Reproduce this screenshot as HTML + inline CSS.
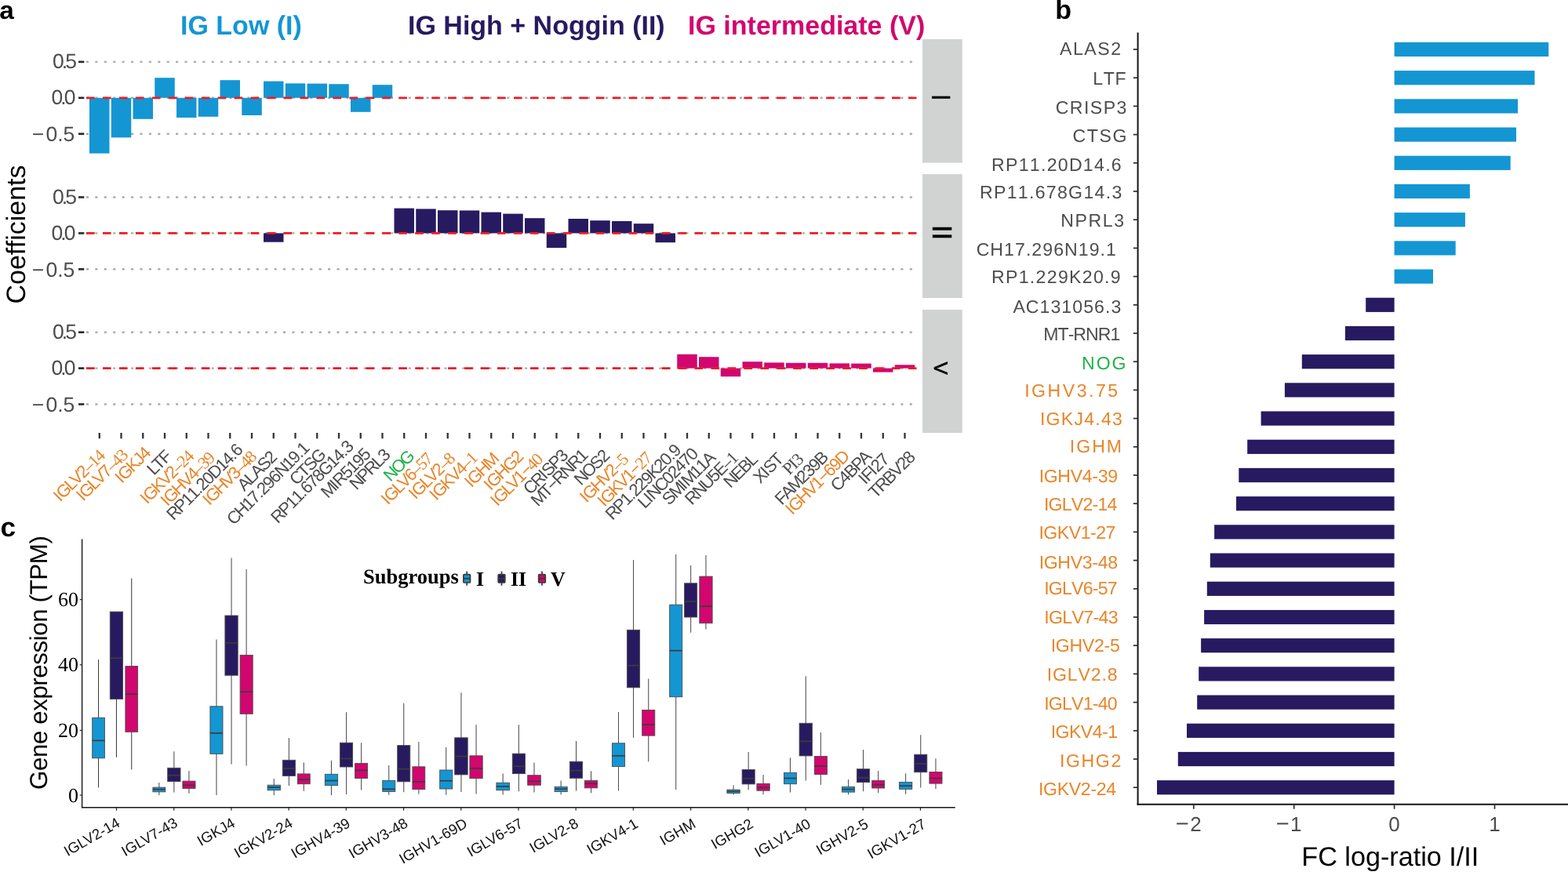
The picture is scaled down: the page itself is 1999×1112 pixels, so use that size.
<!DOCTYPE html>
<html lang="en">
<head>
<meta charset="utf-8">
<title>IG subgroup coefficients, fold-change and gene expression</title>
<style>
html,body{margin:0;padding:0;background:#fff;}
body{width:1999px;height:1112px;overflow:hidden;}
svg{display:block;}
text{white-space:pre;text-rendering:geometricPrecision;}
.nk{font-kerning:none;}
</style>
</head>
<body>
<svg width="1999" height="1112" viewBox="0 0 1999 1112">
<rect x="0" y="0" width="1999" height="1112" fill="#ffffff"/>
<g id="panel-a">
<text x="-0.8" y="23.6" textLength="18.6" lengthAdjust="spacingAndGlyphs" font-family='"Liberation Sans", Arial, Helvetica, sans-serif' font-weight="700" font-size="32" fill="#000">a</text>
<text x="230" y="44.2" font-family='"Liberation Sans", Arial, Helvetica, sans-serif' font-weight="700" font-size="34" fill="#1496D3">IG Low (I)</text>
<text x="520" y="44.2" font-family='"Liberation Sans", Arial, Helvetica, sans-serif' font-weight="700" font-size="34" fill="#281A60">IG High + Noggin (II)</text>
<text x="877" y="44.2" font-family='"Liberation Sans", Arial, Helvetica, sans-serif' font-weight="700" font-size="34" fill="#D2066F">IG intermediate (V)</text>
<text transform="translate(31.6,299) rotate(-90)" text-anchor="middle" font-family='"Liberation Sans", Arial, Helvetica, sans-serif' font-size="34" fill="#000">Coefficients</text>
<line x1="109.95" x2="1163.2" y1="78.9" y2="78.9" stroke="#ABADAD" stroke-width="2.4" stroke-dasharray="3.1 8.311"/>
<line x1="100" x2="107.3" y1="78.9" y2="78.9" stroke="#262626" stroke-width="2.6"/>
<text class="nk" x="95.1" y="87" text-anchor="end" font-family='"Liberation Sans", Arial, Helvetica, sans-serif' font-size="26.5" letter-spacing="-2.9" fill="#4D4D4D">0.5</text>
<line x1="109.95" x2="1163.2" y1="124.8" y2="124.8" stroke="#ABADAD" stroke-width="2.4" stroke-dasharray="3.1 8.311"/>
<line x1="100" x2="107.3" y1="124.8" y2="124.8" stroke="#262626" stroke-width="2.6"/>
<text class="nk" x="93.6" y="132.9" text-anchor="end" font-family='"Liberation Sans", Arial, Helvetica, sans-serif' font-size="26.5" letter-spacing="-2.9" fill="#4D4D4D">0.0</text>
<line x1="109.95" x2="1163.2" y1="170.7" y2="170.7" stroke="#ABADAD" stroke-width="2.4" stroke-dasharray="3.1 8.311"/>
<line x1="100" x2="107.3" y1="170.7" y2="170.7" stroke="#262626" stroke-width="2.6"/>
<text class="nk" x="97.6" y="179.9" text-anchor="end" font-family='"Liberation Sans", Arial, Helvetica, sans-serif' font-size="26.5" fill="#4D4D4D"><tspan dx="-2.3">−</tspan><tspan dx="2.3">0.5</tspan></text>
<rect x="1176" y="50" width="50.8" height="157.6" fill="#D1D3D3"/>
<text transform="translate(1200.4,124.3) rotate(90)" text-anchor="middle" dy="12.17" font-family='"Liberation Sans", Arial, Helvetica, sans-serif' font-size="34" fill="#000" stroke="#000" stroke-width="0">I</text>
<line x1="109.95" x2="1163.2" y1="251.5" y2="251.5" stroke="#ABADAD" stroke-width="2.4" stroke-dasharray="3.1 8.311"/>
<line x1="100" x2="107.3" y1="251.5" y2="251.5" stroke="#262626" stroke-width="2.6"/>
<text class="nk" x="95.1" y="259.6" text-anchor="end" font-family='"Liberation Sans", Arial, Helvetica, sans-serif' font-size="26.5" letter-spacing="-2.9" fill="#4D4D4D">0.5</text>
<line x1="109.95" x2="1163.2" y1="297.4" y2="297.4" stroke="#ABADAD" stroke-width="2.4" stroke-dasharray="3.1 8.311"/>
<line x1="100" x2="107.3" y1="297.4" y2="297.4" stroke="#262626" stroke-width="2.6"/>
<text class="nk" x="93.6" y="305.5" text-anchor="end" font-family='"Liberation Sans", Arial, Helvetica, sans-serif' font-size="26.5" letter-spacing="-2.9" fill="#4D4D4D">0.0</text>
<line x1="109.95" x2="1163.2" y1="343.3" y2="343.3" stroke="#ABADAD" stroke-width="2.4" stroke-dasharray="3.1 8.311"/>
<line x1="100" x2="107.3" y1="343.3" y2="343.3" stroke="#262626" stroke-width="2.6"/>
<text class="nk" x="97.6" y="352.5" text-anchor="end" font-family='"Liberation Sans", Arial, Helvetica, sans-serif' font-size="26.5" fill="#4D4D4D"><tspan dx="-2.3">−</tspan><tspan dx="2.3">0.5</tspan></text>
<rect x="1176" y="222.1" width="50.8" height="157.9" fill="#D1D3D3"/>
<text transform="translate(1201.5,296.4) rotate(90)" text-anchor="middle" dy="12.53" font-family='"Liberation Sans", Arial, Helvetica, sans-serif' font-size="35" fill="#000" stroke="#000" stroke-width="0.3">II</text>
<line x1="109.95" x2="1163.2" y1="423.7" y2="423.7" stroke="#ABADAD" stroke-width="2.4" stroke-dasharray="3.1 8.311"/>
<line x1="100" x2="107.3" y1="423.7" y2="423.7" stroke="#262626" stroke-width="2.6"/>
<text class="nk" x="95.1" y="431.8" text-anchor="end" font-family='"Liberation Sans", Arial, Helvetica, sans-serif' font-size="26.5" letter-spacing="-2.9" fill="#4D4D4D">0.5</text>
<line x1="109.95" x2="1163.2" y1="469.6" y2="469.6" stroke="#ABADAD" stroke-width="2.4" stroke-dasharray="3.1 8.311"/>
<line x1="100" x2="107.3" y1="469.6" y2="469.6" stroke="#262626" stroke-width="2.6"/>
<text class="nk" x="93.6" y="477.7" text-anchor="end" font-family='"Liberation Sans", Arial, Helvetica, sans-serif' font-size="26.5" letter-spacing="-2.9" fill="#4D4D4D">0.0</text>
<line x1="109.95" x2="1163.2" y1="515.5" y2="515.5" stroke="#ABADAD" stroke-width="2.4" stroke-dasharray="3.1 8.311"/>
<line x1="100" x2="107.3" y1="515.5" y2="515.5" stroke="#262626" stroke-width="2.6"/>
<text class="nk" x="97.6" y="524.7" text-anchor="end" font-family='"Liberation Sans", Arial, Helvetica, sans-serif' font-size="26.5" fill="#4D4D4D"><tspan dx="-2.3">−</tspan><tspan dx="2.3">0.5</tspan></text>
<rect x="1176" y="394.9" width="50.8" height="157.1" fill="#D1D3D3"/>
<text transform="translate(1201.5,469.6) rotate(90)" text-anchor="middle" dy="10.4" font-family='"Liberation Sans", Arial, Helvetica, sans-serif' font-size="24.3" fill="#000" stroke="#000" stroke-width="0.7">V</text>
<rect x="114" y="124.8" width="25.5" height="70.8" fill="#1496D3"/>
<rect x="141.75" y="124.8" width="25.5" height="50.6" fill="#1496D3"/>
<rect x="169.5" y="124.8" width="25.5" height="27" fill="#1496D3"/>
<rect x="197.25" y="99.2" width="25.5" height="25.6" fill="#1496D3"/>
<rect x="225" y="124.8" width="25.5" height="25.2" fill="#1496D3"/>
<rect x="252.75" y="124.8" width="25.5" height="24" fill="#1496D3"/>
<rect x="280.5" y="102.2" width="25.5" height="22.6" fill="#1496D3"/>
<rect x="308.25" y="124.8" width="25.5" height="22.2" fill="#1496D3"/>
<rect x="336" y="103.6" width="25.5" height="21.2" fill="#1496D3"/>
<rect x="363.75" y="106.4" width="25.5" height="18.4" fill="#1496D3"/>
<rect x="391.5" y="106.6" width="25.5" height="18.2" fill="#1496D3"/>
<rect x="419.25" y="107.2" width="25.5" height="17.6" fill="#1496D3"/>
<rect x="447" y="124.8" width="25.5" height="18" fill="#1496D3"/>
<rect x="474.75" y="108.2" width="25.5" height="16.6" fill="#1496D3"/>
<rect x="336" y="297.4" width="25.5" height="11.3" fill="#281A60"/>
<rect x="502.5" y="265.6" width="25.5" height="31.8" fill="#281A60"/>
<rect x="530.25" y="266.4" width="25.5" height="31" fill="#281A60"/>
<rect x="558" y="268.2" width="25.5" height="29.2" fill="#281A60"/>
<rect x="585.75" y="268.4" width="25.5" height="29" fill="#281A60"/>
<rect x="613.5" y="270.6" width="25.5" height="26.8" fill="#281A60"/>
<rect x="641.25" y="272.6" width="25.5" height="24.8" fill="#281A60"/>
<rect x="669" y="278.2" width="25.5" height="19.2" fill="#281A60"/>
<rect x="696.75" y="297.4" width="25.5" height="18.6" fill="#281A60"/>
<rect x="724.5" y="279" width="25.5" height="18.4" fill="#281A60"/>
<rect x="752.25" y="281.2" width="25.5" height="16.2" fill="#281A60"/>
<rect x="780" y="282" width="25.5" height="15.4" fill="#281A60"/>
<rect x="807.75" y="285.2" width="25.5" height="12.2" fill="#281A60"/>
<rect x="835.5" y="297.4" width="25.5" height="11.8" fill="#281A60"/>
<rect x="863.25" y="451.8" width="25.5" height="17.8" fill="#D2066F"/>
<rect x="891" y="455.2" width="25.5" height="14.4" fill="#D2066F"/>
<rect x="918.75" y="469.6" width="25.5" height="10.6" fill="#D2066F"/>
<rect x="946.5" y="461.2" width="25.5" height="8.4" fill="#D2066F"/>
<rect x="974.25" y="462.4" width="25.5" height="7.2" fill="#D2066F"/>
<rect x="1002" y="462.8" width="25.5" height="6.8" fill="#D2066F"/>
<rect x="1029.75" y="462.8" width="25.5" height="6.8" fill="#D2066F"/>
<rect x="1057.5" y="463.4" width="25.5" height="6.2" fill="#D2066F"/>
<rect x="1085.25" y="463.6" width="25.5" height="6" fill="#D2066F"/>
<rect x="1113" y="469.6" width="25.5" height="5" fill="#D2066F"/>
<rect x="1140.75" y="465.3" width="25.5" height="4.3" fill="#D2066F"/>
<line x1="110" x2="1168.5" y1="124.8" y2="124.8" stroke="#EC1C24" stroke-width="2.7" stroke-dasharray="10.7 10.26"/>
<line x1="110" x2="1168.5" y1="297.4" y2="297.4" stroke="#EC1C24" stroke-width="2.7" stroke-dasharray="10.7 10.26"/>
<line x1="110" x2="1168.5" y1="469.6" y2="469.6" stroke="#EC1C24" stroke-width="2.7" stroke-dasharray="10.7 10.26"/>
<line x1="126.75" x2="126.75" y1="552" y2="559.3" stroke="#333" stroke-width="2.3"/>
<text class="nk" transform="translate(76.75,640.65) rotate(-45)" font-family='"Liberation Sans", Arial, Helvetica, sans-serif' font-size="22" fill="#E8862B"><tspan x="0 5.31 20.18 29.48 42.23">IGLV2</tspan><tspan font-family='"Liberation Serif", serif' x="52.87 62.43 71.99">–14</tspan></text>
<line x1="154.5" x2="154.5" y1="552" y2="559.3" stroke="#333" stroke-width="2.3"/>
<text class="nk" transform="translate(106,640) rotate(-45)" font-family='"Liberation Sans", Arial, Helvetica, sans-serif' font-size="22" fill="#E8862B"><tspan x="0 5.31 20.18 29.48 42.23">IGLV7</tspan><tspan font-family='"Liberation Serif", serif' x="52.87 62.43 71.99">–43</tspan></text>
<line x1="182.25" x2="182.25" y1="552" y2="559.3" stroke="#333" stroke-width="2.3"/>
<text class="nk" transform="translate(155.15,617.35) rotate(-45)" font-family='"Liberation Sans", Arial, Helvetica, sans-serif' font-size="22" fill="#E8862B"><tspan x="0 5.31 20.18 32.94 42.5">IGKJ4</tspan></text>
<line x1="210" x2="210" y1="552" y2="559.3" stroke="#333" stroke-width="2.3"/>
<text class="nk" transform="translate(196.25,607.1) rotate(-45)" font-family='"Liberation Sans", Arial, Helvetica, sans-serif' font-size="22" fill="#4D4D4D"><tspan x="0 9.3 20.97">LTF</tspan></text>
<line x1="237.75" x2="237.75" y1="552" y2="559.3" stroke="#333" stroke-width="2.3"/>
<text class="nk" transform="translate(187.6,643.85) rotate(-45)" font-family='"Liberation Sans", Arial, Helvetica, sans-serif' font-size="22" fill="#E8862B"><tspan x="0 5.31 20.18 32.94 45.69">IGKV2</tspan><tspan font-family='"Liberation Serif", serif' x="56.32 65.88 75.44">–24</tspan></text>
<line x1="265.5" x2="265.5" y1="552" y2="559.3" stroke="#333" stroke-width="2.3"/>
<text class="nk" transform="translate(213.6,646.6) rotate(-45)" font-family='"Liberation Sans", Arial, Helvetica, sans-serif' font-size="22" fill="#E8862B"><tspan x="0 5.31 20.18 33.99 46.75">IGHV4</tspan><tspan font-family='"Liberation Serif", serif' x="57.38 66.94 76.5">–39</tspan></text>
<line x1="293.25" x2="293.25" y1="552" y2="559.3" stroke="#333" stroke-width="2.3"/>
<text class="nk" transform="translate(221.3,664.4) rotate(-45)" font-family='"Liberation Sans", Arial, Helvetica, sans-serif' font-size="22" fill="#4D4D4D"><tspan x="0 13.81 26.56 37.19 47.83 53.14 63.77 74.41 88.22 98.85 109.48 114.79">RP11.20D14.6</tspan></text>
<line x1="321" x2="321" y1="552" y2="559.3" stroke="#333" stroke-width="2.3"/>
<text class="nk" transform="translate(267,645.45) rotate(-45)" font-family='"Liberation Sans", Arial, Helvetica, sans-serif' font-size="22" fill="#E8862B"><tspan x="0 5.31 20.18 33.99 46.75">IGHV3</tspan><tspan font-family='"Liberation Serif", serif' x="57.38 66.94 76.5">–48</tspan></text>
<line x1="348.75" x2="348.75" y1="552" y2="559.3" stroke="#333" stroke-width="2.3"/>
<text class="nk" transform="translate(311.55,627.15) rotate(-45)" font-family='"Liberation Sans", Arial, Helvetica, sans-serif' font-size="22" fill="#4D4D4D"><tspan x="0 12.75 23.39 36.14 48.89">ALAS2</tspan></text>
<line x1="376.5" x2="376.5" y1="552" y2="559.3" stroke="#333" stroke-width="2.3"/>
<text class="nk" transform="translate(298,670.5) rotate(-45)" font-family='"Liberation Sans", Arial, Helvetica, sans-serif' font-size="22" fill="#4D4D4D"><tspan x="0 13.81 27.62 38.25 48.88 54.2 64.83 75.46 86.1 99.9 110.54 121.17 126.48">CH17.296N19.1</tspan></text>
<line x1="404.25" x2="404.25" y1="552" y2="559.3" stroke="#333" stroke-width="2.3"/>
<text class="nk" transform="translate(378.05,619.75) rotate(-45)" font-family='"Liberation Sans", Arial, Helvetica, sans-serif' font-size="22" fill="#4D4D4D"><tspan x="0 13.81 25.49 38.24">CTSG</tspan></text>
<line x1="432" x2="432" y1="552" y2="559.3" stroke="#333" stroke-width="2.3"/>
<text class="nk" transform="translate(354.3,668.4) rotate(-45)" font-family='"Liberation Sans", Arial, Helvetica, sans-serif' font-size="22" fill="#4D4D4D"><tspan x="0 13.81 26.56 37.19 47.83 53.14 63.77 74.41 85.04 99.91 110.55 121.18 126.49">RP11.678G14.3</tspan></text>
<line x1="459.75" x2="459.75" y1="552" y2="559.3" stroke="#333" stroke-width="2.3"/>
<text class="nk" transform="translate(418.1,636.2) rotate(-45)" font-family='"Liberation Sans", Arial, Helvetica, sans-serif' font-size="22" fill="#4D4D4D"><tspan x="0 15.93 21.24 35.05 45.68 56.31 66.95">MIR5195</tspan></text>
<line x1="487.5" x2="487.5" y1="552" y2="559.3" stroke="#333" stroke-width="2.3"/>
<text class="nk" transform="translate(454.5,625.7) rotate(-45)" font-family='"Liberation Sans", Arial, Helvetica, sans-serif' font-size="22" fill="#4D4D4D"><tspan x="0 13.81 26.56 40.37 51">NPRL3</tspan></text>
<line x1="515.25" x2="515.25" y1="552" y2="559.3" stroke="#333" stroke-width="2.3"/>
<text class="nk" transform="translate(497.7,614.9) rotate(-45)" font-family='"Liberation Sans", Arial, Helvetica, sans-serif' font-size="22" fill="#21B24B"><tspan x="0 13.81 28.68">NOG</tspan></text>
<line x1="543" x2="543" y1="552" y2="559.3" stroke="#333" stroke-width="2.3"/>
<text class="nk" transform="translate(494.55,644.65) rotate(-45)" font-family='"Liberation Sans", Arial, Helvetica, sans-serif' font-size="22" fill="#E8862B"><tspan x="0 5.31 20.18 29.48 42.23">IGLV6</tspan><tspan font-family='"Liberation Serif", serif' x="52.87 62.43 71.99">–57</tspan></text>
<line x1="570.75" x2="570.75" y1="552" y2="559.3" stroke="#333" stroke-width="2.3"/>
<text class="nk" transform="translate(529.8,637.75) rotate(-45)" font-family='"Liberation Sans", Arial, Helvetica, sans-serif' font-size="22" fill="#E8862B"><tspan x="0 5.31 20.18 29.48 42.23">IGLV2</tspan><tspan font-family='"Liberation Serif", serif' x="52.87 62.43">–8</tspan></text>
<line x1="598.5" x2="598.5" y1="552" y2="559.3" stroke="#333" stroke-width="2.3"/>
<text class="nk" transform="translate(556.25,639.15) rotate(-45)" font-family='"Liberation Sans", Arial, Helvetica, sans-serif' font-size="22" fill="#E8862B"><tspan x="0 5.31 20.18 32.94 45.69">IGKV4</tspan><tspan font-family='"Liberation Serif", serif' x="56.32 65.88">–1</tspan></text>
<line x1="626.25" x2="626.25" y1="552" y2="559.3" stroke="#333" stroke-width="2.3"/>
<text class="nk" transform="translate(600.95,622.85) rotate(-45)" font-family='"Liberation Sans", Arial, Helvetica, sans-serif' font-size="22" fill="#E8862B"><tspan x="0 5.31 20.18 33.99">IGHM</tspan></text>
<line x1="654" x2="654" y1="552" y2="559.3" stroke="#333" stroke-width="2.3"/>
<text class="nk" transform="translate(625.6,626.55) rotate(-45)" font-family='"Liberation Sans", Arial, Helvetica, sans-serif' font-size="22" fill="#E8862B"><tspan x="0 5.31 20.18 33.99 48.86">IGHG2</tspan></text>
<line x1="681.75" x2="681.75" y1="552" y2="559.3" stroke="#333" stroke-width="2.3"/>
<text class="nk" transform="translate(634,646.5) rotate(-45)" font-family='"Liberation Sans", Arial, Helvetica, sans-serif' font-size="22" fill="#E8862B"><tspan x="0 5.31 20.18 29.48 42.23 52.87">IGLV1−</tspan><tspan font-family='"Liberation Serif", serif' x="64.03 73.59">40</tspan></text>
<line x1="709.5" x2="709.5" y1="552" y2="559.3" stroke="#333" stroke-width="2.3"/>
<text class="nk" transform="translate(675.95,631.8) rotate(-45)" font-family='"Liberation Sans", Arial, Helvetica, sans-serif' font-size="22" fill="#4D4D4D"><tspan x="0 13.81 27.62 32.93 45.68 58.43">CRISP3</tspan></text>
<line x1="737.25" x2="737.25" y1="552" y2="559.3" stroke="#333" stroke-width="2.3"/>
<text class="nk" transform="translate(685.7,646.75) rotate(-45)" font-family='"Liberation Sans", Arial, Helvetica, sans-serif' font-size="22" fill="#4D4D4D"><tspan x="0 15.93 27.61 38.77 52.58 66.39 80.2">MT−RNR1</tspan></text>
<line x1="765" x2="765" y1="552" y2="559.3" stroke="#333" stroke-width="2.3"/>
<text class="nk" transform="translate(740.85,619.95) rotate(-45)" font-family='"Liberation Sans", Arial, Helvetica, sans-serif' font-size="22" fill="#4D4D4D"><tspan x="0 13.81 28.68 41.43">NOS2</tspan></text>
<line x1="792.75" x2="792.75" y1="552" y2="559.3" stroke="#333" stroke-width="2.3"/>
<text class="nk" transform="translate(747.65,642) rotate(-45)" font-family='"Liberation Sans", Arial, Helvetica, sans-serif' font-size="22" fill="#E8862B"><tspan x="0 5.31 20.18 33.99 46.75">IGHV2</tspan><tspan font-family='"Liberation Serif", serif' x="57.38 66.94">–5</tspan></text>
<line x1="820.5" x2="820.5" y1="552" y2="559.3" stroke="#333" stroke-width="2.3"/>
<text class="nk" transform="translate(770.45,647.35) rotate(-45)" font-family='"Liberation Sans", Arial, Helvetica, sans-serif' font-size="22" fill="#E8862B"><tspan x="0 5.31 20.18 32.94 45.69 56.32">IGKV1−</tspan><tspan font-family='"Liberation Serif", serif' x="67.49 77.05">27</tspan></text>
<line x1="848.25" x2="848.25" y1="552" y2="559.3" stroke="#333" stroke-width="2.3"/>
<text class="nk" transform="translate(780.8,664.25) rotate(-45)" font-family='"Liberation Sans", Arial, Helvetica, sans-serif' font-size="22" fill="#4D4D4D"><tspan x="0 13.81 26.56 37.19 42.51 53.14 63.77 74.41 87.16 97.79 108.43 113.74">RP1.229K20.9</tspan></text>
<line x1="876" x2="876" y1="552" y2="559.3" stroke="#333" stroke-width="2.3"/>
<text class="nk" transform="translate(822,649.45) rotate(-45)" font-family='"Liberation Sans", Arial, Helvetica, sans-serif' font-size="22" fill="#4D4D4D"><tspan x="0 10.63 15.95 29.75 43.56 54.2 64.83 75.46 86.1">LINC02470</tspan></text>
<line x1="903.75" x2="903.75" y1="552" y2="559.3" stroke="#333" stroke-width="2.3"/>
<text class="nk" transform="translate(853.1,645.3) rotate(-45)" font-family='"Liberation Sans", Arial, Helvetica, sans-serif' font-size="22" fill="#4D4D4D"><tspan x="0 12.75 28.68 33.99 49.92 60.55 71.19">SMIM11A</tspan></text>
<line x1="931.5" x2="931.5" y1="552" y2="559.3" stroke="#333" stroke-width="2.3"/>
<text class="nk" transform="translate(882.05,645.05) rotate(-45)" font-family='"Liberation Sans", Arial, Helvetica, sans-serif' font-size="22" fill="#4D4D4D"><tspan x="0 13.81 27.62 41.42 52.06">RNU5E</tspan><tspan font-family='"Liberation Serif", serif' x="64.81 74.37">–1</tspan></text>
<line x1="959.25" x2="959.25" y1="552" y2="559.3" stroke="#333" stroke-width="2.3"/>
<text class="nk" transform="translate(931.3,623.3) rotate(-45)" font-family='"Liberation Sans", Arial, Helvetica, sans-serif' font-size="22" fill="#4D4D4D"><tspan x="0 13.81 26.56 39.31">NEBL</tspan></text>
<line x1="987" x2="987" y1="552" y2="559.3" stroke="#333" stroke-width="2.3"/>
<text class="nk" transform="translate(969.2,617.5) rotate(-45)" font-family='"Liberation Sans", Arial, Helvetica, sans-serif' font-size="22" fill="#4D4D4D"><tspan x="0 12.75 18.07 30.82">XIST</tspan></text>
<line x1="1014.75" x2="1014.75" y1="552" y2="559.3" stroke="#333" stroke-width="2.3"/>
<text class="nk" transform="translate(1006.25,606.4) rotate(-45)" font-family='"Liberation Sans", Arial, Helvetica, sans-serif' font-size="22" fill="#4D4D4D"><tspan font-family='"Liberation Serif", serif' x="0 10.63 17">PI3</tspan></text>
<line x1="1042.5" x2="1042.5" y1="552" y2="559.3" stroke="#333" stroke-width="2.3"/>
<text class="nk" transform="translate(996.75,644.9) rotate(-45)" font-family='"Liberation Sans", Arial, Helvetica, sans-serif' font-size="22" fill="#4D4D4D"><tspan x="0 10.72 23.48 39.4 50.04 60.67 71.3">FAM239B</tspan></text>
<line x1="1070.25" x2="1070.25" y1="552" y2="559.3" stroke="#333" stroke-width="2.3"/>
<text class="nk" transform="translate(1010,657.5) rotate(-45)" font-family='"Liberation Sans", Arial, Helvetica, sans-serif' font-size="22" fill="#E8862B"><tspan x="0 5.31 20.18 33.99 46.75 57.38 68.54 79.18 89.81">IGHV1−69D</tspan></text>
<line x1="1098" x2="1098" y1="552" y2="559.3" stroke="#333" stroke-width="2.3"/>
<text class="nk" transform="translate(1067.85,627.75) rotate(-45)" font-family='"Liberation Sans", Arial, Helvetica, sans-serif' font-size="22" fill="#4D4D4D"><tspan x="0 13.81 24.44 37.19 48.51">C4BPA</tspan></text>
<line x1="1125.75" x2="1125.75" y1="552" y2="559.3" stroke="#333" stroke-width="2.3"/>
<text class="nk" transform="translate(1103.35,618.7) rotate(-45)" font-family='"Liberation Sans", Arial, Helvetica, sans-serif' font-size="22" fill="#4D4D4D"><tspan x="0 5.31 16.99 22.3 32.94">IFI27</tspan></text>
<line x1="1153.5" x2="1153.5" y1="552" y2="559.3" stroke="#333" stroke-width="2.3"/>
<text class="nk" transform="translate(1116.15,636.4) rotate(-45)" font-family='"Liberation Sans", Arial, Helvetica, sans-serif' font-size="22" fill="#4D4D4D"><tspan x="0 11.68 25.49 38.24 50.99 61.63">TRBV28</tspan></text>
</g>
<g id="panel-b">
<text x="1345.3" y="23.7" font-family='"Liberation Sans", Arial, Helvetica, sans-serif' font-weight="700" font-size="34" fill="#000">b</text>
<line x1="1450.6" x2="1450.6" y1="41.4" y2="1026.6" stroke="#141414" stroke-width="2"/>
<line x1="1449.6" x2="1999" y1="1025.7" y2="1025.7" stroke="#141414" stroke-width="1.9"/>
<line x1="1444.8" x2="1450.6" y1="63" y2="63" stroke="#2e2e2e" stroke-width="1.7"/>
<rect x="1777.6" y="53.9" width="196.7" height="18.2" fill="#1496D3"/>
<text class="nk" x="1351" y="70.4" font-family='"Liberation Sans", Arial, Helvetica, sans-serif' font-size="23.1" letter-spacing="1.53" fill="#4D4D4D">ALAS2</text>
<line x1="1444.8" x2="1450.6" y1="99.2" y2="99.2" stroke="#2e2e2e" stroke-width="1.7"/>
<rect x="1777.6" y="90.1" width="178.9" height="18.2" fill="#1496D3"/>
<text class="nk" x="1393.15" y="108.2" font-family='"Liberation Sans", Arial, Helvetica, sans-serif' font-size="23.1" letter-spacing="0.68" fill="#4D4D4D">LTF</text>
<line x1="1444.8" x2="1450.6" y1="135.4" y2="135.4" stroke="#2e2e2e" stroke-width="1.7"/>
<rect x="1777.6" y="126.3" width="157.4" height="18.2" fill="#1496D3"/>
<text class="nk" x="1345.65" y="145.15" font-family='"Liberation Sans", Arial, Helvetica, sans-serif' font-size="23.1" letter-spacing="1.46" fill="#4D4D4D">CRISP3</text>
<line x1="1444.8" x2="1450.6" y1="171.6" y2="171.6" stroke="#2e2e2e" stroke-width="1.7"/>
<rect x="1777.6" y="162.5" width="155.4" height="18.2" fill="#1496D3"/>
<text class="nk" x="1367.5" y="180.5" font-family='"Liberation Sans", Arial, Helvetica, sans-serif' font-size="23.1" letter-spacing="1.58" fill="#4D4D4D">CTSG</text>
<line x1="1444.8" x2="1450.6" y1="207.8" y2="207.8" stroke="#2e2e2e" stroke-width="1.7"/>
<rect x="1777.6" y="198.7" width="148.1" height="18.2" fill="#1496D3"/>
<text class="nk" x="1264" y="217.55" font-family='"Liberation Sans", Arial, Helvetica, sans-serif' font-size="23.1" letter-spacing="1.29" fill="#4D4D4D">RP11.20D14.6</text>
<line x1="1444.8" x2="1450.6" y1="244" y2="244" stroke="#2e2e2e" stroke-width="1.7"/>
<rect x="1777.6" y="234.9" width="96.3" height="18.2" fill="#1496D3"/>
<text class="nk" x="1249" y="253.4" font-family='"Liberation Sans", Arial, Helvetica, sans-serif' font-size="23.1" letter-spacing="1.3" fill="#4D4D4D">RP11.678G14.3</text>
<line x1="1444.8" x2="1450.6" y1="280.2" y2="280.2" stroke="#2e2e2e" stroke-width="1.7"/>
<rect x="1777.6" y="271.1" width="90.3" height="18.2" fill="#1496D3"/>
<text class="nk" x="1352.15" y="288.7" font-family='"Liberation Sans", Arial, Helvetica, sans-serif' font-size="23.1" letter-spacing="1.63" fill="#4D4D4D">NPRL3</text>
<line x1="1444.8" x2="1450.6" y1="316.4" y2="316.4" stroke="#2e2e2e" stroke-width="1.7"/>
<rect x="1777.6" y="307.3" width="78.1" height="18.2" fill="#1496D3"/>
<text class="nk" x="1244.65" y="325.8" font-family='"Liberation Sans", Arial, Helvetica, sans-serif' font-size="23.1" letter-spacing="1.05" fill="#4D4D4D">CH17.296N19.1</text>
<line x1="1444.8" x2="1450.6" y1="352.6" y2="352.6" stroke="#2e2e2e" stroke-width="1.7"/>
<rect x="1777.6" y="343.5" width="49.4" height="18.2" fill="#1496D3"/>
<text class="nk" x="1264" y="360.7" font-family='"Liberation Sans", Arial, Helvetica, sans-serif' font-size="23.1" letter-spacing="1.31" fill="#4D4D4D">RP1.229K20.9</text>
<line x1="1444.8" x2="1450.6" y1="388.8" y2="388.8" stroke="#2e2e2e" stroke-width="1.7"/>
<rect x="1741.2" y="379.7" width="36.4" height="18.2" fill="#281A60"/>
<text class="nk" x="1291.4" y="398.8" font-family='"Liberation Sans", Arial, Helvetica, sans-serif' font-size="23.1" letter-spacing="1.05" fill="#4D4D4D">AC131056.3</text>
<line x1="1444.8" x2="1450.6" y1="425" y2="425" stroke="#2e2e2e" stroke-width="1.7"/>
<rect x="1714.9" y="415.9" width="62.7" height="18.2" fill="#281A60"/>
<text class="nk" x="1330.3" y="434" font-family='"Liberation Sans", Arial, Helvetica, sans-serif' font-size="23.1" letter-spacing="-0.99" fill="#4D4D4D">MT-RNR1</text>
<line x1="1444.8" x2="1450.6" y1="461.2" y2="461.2" stroke="#2e2e2e" stroke-width="1.7"/>
<rect x="1659.8" y="452.1" width="117.8" height="18.2" fill="#281A60"/>
<text class="nk" x="1379" y="470.6" font-family='"Liberation Sans", Arial, Helvetica, sans-serif' font-size="23.1" letter-spacing="1.98" fill="#21B24B">NOG</text>
<line x1="1444.8" x2="1450.6" y1="497.4" y2="497.4" stroke="#2e2e2e" stroke-width="1.7"/>
<rect x="1637.9" y="488.3" width="139.7" height="18.2" fill="#281A60"/>
<text class="nk" x="1306.15" y="505.9" font-family='"Liberation Sans", Arial, Helvetica, sans-serif' font-size="23.1" letter-spacing="2.52" fill="#E8862B">IGHV3.75</text>
<line x1="1444.8" x2="1450.6" y1="533.6" y2="533.6" stroke="#2e2e2e" stroke-width="1.7"/>
<rect x="1607.6" y="524.5" width="170" height="18.2" fill="#281A60"/>
<text class="nk" x="1325.9" y="541.8" font-family='"Liberation Sans", Arial, Helvetica, sans-serif' font-size="23.1" letter-spacing="1.24" fill="#E8862B">IGKJ4.43</text>
<line x1="1444.8" x2="1450.6" y1="569.8" y2="569.8" stroke="#2e2e2e" stroke-width="1.7"/>
<rect x="1590.2" y="560.7" width="187.4" height="18.2" fill="#281A60"/>
<text class="nk" x="1363.8" y="577.1" font-family='"Liberation Sans", Arial, Helvetica, sans-serif' font-size="23.1" letter-spacing="1.98" fill="#E8862B">IGHM</text>
<line x1="1444.8" x2="1450.6" y1="606" y2="606" stroke="#2e2e2e" stroke-width="1.7"/>
<rect x="1579.3" y="596.9" width="198.3" height="18.2" fill="#281A60"/>
<text class="nk" x="1324.65" y="614.9" font-family='"Liberation Sans", Arial, Helvetica, sans-serif' font-size="23.1" letter-spacing="-0.33" fill="#E8862B">IGHV4-39</text>
<line x1="1444.8" x2="1450.6" y1="642.2" y2="642.2" stroke="#2e2e2e" stroke-width="1.7"/>
<rect x="1576" y="633.1" width="201.6" height="18.2" fill="#281A60"/>
<text class="nk" x="1330.9" y="651.3" font-family='"Liberation Sans", Arial, Helvetica, sans-serif' font-size="23.1" letter-spacing="-0.76" fill="#E8862B">IGLV2-14</text>
<line x1="1444.8" x2="1450.6" y1="678.4" y2="678.4" stroke="#2e2e2e" stroke-width="1.7"/>
<rect x="1548.1" y="669.3" width="229.5" height="18.2" fill="#281A60"/>
<text class="nk" x="1324.4" y="687.2" font-family='"Liberation Sans", Arial, Helvetica, sans-serif' font-size="23.1" letter-spacing="-0.48" fill="#E8862B">IGKV1-27</text>
<line x1="1444.8" x2="1450.6" y1="714.6" y2="714.6" stroke="#2e2e2e" stroke-width="1.7"/>
<rect x="1542.8" y="705.5" width="234.8" height="18.2" fill="#281A60"/>
<text class="nk" x="1324.65" y="724.6" font-family='"Liberation Sans", Arial, Helvetica, sans-serif' font-size="23.1" letter-spacing="-0.33" fill="#E8862B">IGHV3-48</text>
<line x1="1444.8" x2="1450.6" y1="750.8" y2="750.8" stroke="#2e2e2e" stroke-width="1.7"/>
<rect x="1538.8" y="741.7" width="238.8" height="18.2" fill="#281A60"/>
<text class="nk" x="1331.15" y="758.2" font-family='"Liberation Sans", Arial, Helvetica, sans-serif' font-size="23.1" letter-spacing="-0.76" fill="#E8862B">IGLV6-57</text>
<line x1="1444.8" x2="1450.6" y1="787" y2="787" stroke="#2e2e2e" stroke-width="1.7"/>
<rect x="1535.1" y="777.9" width="242.5" height="18.2" fill="#281A60"/>
<text class="nk" x="1331.15" y="795.4" font-family='"Liberation Sans", Arial, Helvetica, sans-serif' font-size="23.1" letter-spacing="-0.62" fill="#E8862B">IGLV7-43</text>
<line x1="1444.8" x2="1450.6" y1="823.2" y2="823.2" stroke="#2e2e2e" stroke-width="1.7"/>
<rect x="1531.1" y="814.1" width="246.5" height="18.2" fill="#281A60"/>
<text class="nk" x="1339.65" y="830.8" font-family='"Liberation Sans", Arial, Helvetica, sans-serif' font-size="23.1" letter-spacing="-0.29" fill="#E8862B">IGHV2-5</text>
<line x1="1444.8" x2="1450.6" y1="859.4" y2="859.4" stroke="#2e2e2e" stroke-width="1.7"/>
<rect x="1528.2" y="850.3" width="249.4" height="18.2" fill="#281A60"/>
<text class="nk" x="1334.65" y="868.4" font-family='"Liberation Sans", Arial, Helvetica, sans-serif' font-size="23.1" letter-spacing="0.88" fill="#E8862B">IGLV2.8</text>
<line x1="1444.8" x2="1450.6" y1="895.6" y2="895.6" stroke="#2e2e2e" stroke-width="1.7"/>
<rect x="1526.2" y="886.5" width="251.4" height="18.2" fill="#281A60"/>
<text class="nk" x="1331.15" y="905.2" font-family='"Liberation Sans", Arial, Helvetica, sans-serif' font-size="23.1" letter-spacing="-0.76" fill="#E8862B">IGLV1-40</text>
<line x1="1444.8" x2="1450.6" y1="931.8" y2="931.8" stroke="#2e2e2e" stroke-width="1.7"/>
<rect x="1513" y="922.7" width="264.6" height="18.2" fill="#281A60"/>
<text class="nk" x="1339.65" y="941.1" font-family='"Liberation Sans", Arial, Helvetica, sans-serif' font-size="23.1" letter-spacing="-0.52" fill="#E8862B">IGKV4-1</text>
<line x1="1444.8" x2="1450.6" y1="968" y2="968" stroke="#2e2e2e" stroke-width="1.7"/>
<rect x="1501.8" y="958.9" width="275.8" height="18.2" fill="#281A60"/>
<text class="nk" x="1350.9" y="977.75" font-family='"Liberation Sans", Arial, Helvetica, sans-serif' font-size="23.1" letter-spacing="1.63" fill="#E8862B">IGHG2</text>
<line x1="1444.8" x2="1450.6" y1="1004.2" y2="1004.2" stroke="#2e2e2e" stroke-width="1.7"/>
<rect x="1475" y="995.1" width="302.6" height="18.2" fill="#281A60"/>
<text class="nk" x="1324" y="1013.6" font-family='"Liberation Sans", Arial, Helvetica, sans-serif' font-size="23.1" letter-spacing="-0.33" fill="#E8862B">IGKV2-24</text>
<line x1="1521.8" x2="1521.8" y1="1025.7" y2="1031.7" stroke="#2e2e2e" stroke-width="1.7"/>
<text class="nk" x="1533.4" y="1059.7" text-anchor="end" font-family='"Liberation Sans", Arial, Helvetica, sans-serif' font-size="26" fill="#4D4D4D"><tspan dx="-1.8" font-size="29">−</tspan><tspan dx="1.4">2</tspan></text>
<line x1="1649.7" x2="1649.7" y1="1025.7" y2="1031.7" stroke="#2e2e2e" stroke-width="1.7"/>
<text class="nk" x="1661.3" y="1059.7" text-anchor="end" font-family='"Liberation Sans", Arial, Helvetica, sans-serif' font-size="26" fill="#4D4D4D"><tspan dx="-1.8" font-size="29">−</tspan><tspan dx="1.4">1</tspan></text>
<line x1="1777.6" x2="1777.6" y1="1025.7" y2="1031.7" stroke="#2e2e2e" stroke-width="1.7"/>
<text class="nk" x="1777.6" y="1059.7" text-anchor="middle" font-family='"Liberation Sans", Arial, Helvetica, sans-serif' font-size="26" fill="#4D4D4D">0</text>
<line x1="1905.5" x2="1905.5" y1="1025.7" y2="1031.7" stroke="#2e2e2e" stroke-width="1.7"/>
<text class="nk" x="1905.5" y="1059.7" text-anchor="middle" font-family='"Liberation Sans", Arial, Helvetica, sans-serif' font-size="26" fill="#4D4D4D">1</text>
<text x="1772.3" y="1103.6" text-anchor="middle" font-family='"Liberation Sans", Arial, Helvetica, sans-serif' font-size="34.2" fill="#000">FC log-ratio I/II</text>
</g>
<g id="panel-c">
<text x="0.4" y="684.1" textLength="19.6" lengthAdjust="spacingAndGlyphs" font-family='"Liberation Sans", Arial, Helvetica, sans-serif' font-weight="700" font-size="34.5" fill="#000">c</text>
<text transform="translate(60.2,845.3) rotate(-90)" text-anchor="middle" font-family='"Liberation Sans", Arial, Helvetica, sans-serif' font-size="31.3" letter-spacing="-0.42" fill="#000">Gene expression (TPM)</text>
<line x1="104.6" x2="104.6" y1="687.4" y2="1030.3" stroke="#151515" stroke-width="1.4"/>
<line x1="104" x2="1217.7" y1="1029.7" y2="1029.7" stroke="#151515" stroke-width="1.4"/>
<line x1="101.8" x2="104.6" y1="764.6" y2="764.6" stroke="#222" stroke-width="1.2"/>
<text x="100" y="773.2" text-anchor="end" font-family='"Liberation Serif", "Times New Roman", serif' font-size="26" fill="#000">60</text>
<line x1="101.8" x2="104.6" y1="847.8" y2="847.8" stroke="#222" stroke-width="1.2"/>
<text x="100" y="856.4" text-anchor="end" font-family='"Liberation Serif", "Times New Roman", serif' font-size="26" fill="#000">40</text>
<line x1="101.8" x2="104.6" y1="931.4" y2="931.4" stroke="#222" stroke-width="1.2"/>
<text x="100" y="940" text-anchor="end" font-family='"Liberation Serif", "Times New Roman", serif' font-size="26" fill="#000">20</text>
<line x1="101.8" x2="104.6" y1="1014" y2="1014" stroke="#222" stroke-width="1.2"/>
<text x="100" y="1022.6" text-anchor="end" font-family='"Liberation Serif", "Times New Roman", serif' font-size="26" fill="#000">0</text>
<line x1="148.5" x2="148.5" y1="1029.7" y2="1033.6" stroke="#222" stroke-width="1.2"/>
<text transform="translate(147.6,1041.4) rotate(-30)" text-anchor="end" dy="13.4" font-family='"Liberation Sans", Arial, Helvetica, sans-serif' font-size="18.7" letter-spacing="0" fill="#111">IGLV2-14</text>
<line x1="125.55" x2="125.55" y1="841.1" y2="1004.4" stroke="#333" stroke-width="1.0"/>
<rect x="117.7" y="915.3" width="15.7" height="51.5" fill="#1496D3" stroke="#4a4a4a" stroke-width="0.9"/>
<line x1="117.7" x2="133.4" y1="944.4" y2="944.4" stroke="#3c3c3c" stroke-width="1.7"/>
<line x1="148.45" x2="148.45" y1="780.1" y2="965.7" stroke="#333" stroke-width="1.0"/>
<rect x="140.3" y="780.1" width="16.3" height="111.3" fill="#281A60" stroke="#4a4a4a" stroke-width="0.9"/>
<line x1="140.3" x2="156.6" y1="839.2" y2="839.2" stroke="#3c3c3c" stroke-width="1.7"/>
<line x1="167.75" x2="167.75" y1="737.5" y2="981.4" stroke="#333" stroke-width="1.0"/>
<rect x="159.9" y="849.6" width="15.7" height="83.7" fill="#D2066F" stroke="#4a4a4a" stroke-width="0.9"/>
<line x1="159.9" x2="175.6" y1="885.1" y2="885.1" stroke="#3c3c3c" stroke-width="1.7"/>
<line x1="221.71" x2="221.71" y1="1029.7" y2="1033.6" stroke="#222" stroke-width="1.2"/>
<text transform="translate(220.98,1041.51) rotate(-30)" text-anchor="end" dy="13.4" font-family='"Liberation Sans", Arial, Helvetica, sans-serif' font-size="18.7" letter-spacing="0" fill="#111">IGLV7-43</text>
<line x1="202.85" x2="202.85" y1="998" y2="1013.9" stroke="#4d4d4d" stroke-width="1.05"/>
<rect x="194.9" y="1004.1" width="15.9" height="5.7" fill="#1496D3" stroke="#4a4a4a" stroke-width="0.9"/>
<line x1="194.9" x2="210.8" y1="1006.7" y2="1006.7" stroke="#3c3c3c" stroke-width="1.7"/>
<line x1="221.85" x2="221.85" y1="958.2" y2="1010.5" stroke="#4d4d4d" stroke-width="1.05"/>
<rect x="213.7" y="979.3" width="16.3" height="17.3" fill="#281A60" stroke="#4a4a4a" stroke-width="0.9"/>
<line x1="213.7" x2="230" y1="988.7" y2="988.7" stroke="#3c3c3c" stroke-width="1.7"/>
<line x1="240.95" x2="240.95" y1="983" y2="1011.7" stroke="#4d4d4d" stroke-width="1.05"/>
<rect x="232.9" y="996.1" width="16.1" height="9.3" fill="#D2066F" stroke="#4a4a4a" stroke-width="0.9"/>
<line x1="232.9" x2="249" y1="1001.4" y2="1001.4" stroke="#3c3c3c" stroke-width="1.7"/>
<line x1="294.92" x2="294.92" y1="1029.7" y2="1033.6" stroke="#222" stroke-width="1.2"/>
<text transform="translate(294.36,1041.63) rotate(-30)" text-anchor="end" dy="13.4" font-family='"Liberation Sans", Arial, Helvetica, sans-serif' font-size="18.7" letter-spacing="0" fill="#111">IGKJ4</text>
<line x1="275.95" x2="275.95" y1="815.5" y2="1013.9" stroke="#8a8a8a" stroke-width="1.6"/>
<rect x="267.9" y="900.8" width="16.1" height="60.5" fill="#1496D3" stroke="#4a4a4a" stroke-width="0.9"/>
<line x1="267.9" x2="284" y1="934.9" y2="934.9" stroke="#3c3c3c" stroke-width="1.7"/>
<line x1="295.05" x2="295.05" y1="711.5" y2="974.6" stroke="#8a8a8a" stroke-width="1.6"/>
<rect x="286.9" y="785" width="16.3" height="76.2" fill="#281A60" stroke="#4a4a4a" stroke-width="0.9"/>
<line x1="286.9" x2="303.2" y1="820" y2="820" stroke="#3c3c3c" stroke-width="1.7"/>
<line x1="314.15" x2="314.15" y1="726.1" y2="976.5" stroke="#8a8a8a" stroke-width="1.6"/>
<rect x="306.1" y="835.4" width="16.1" height="74.9" fill="#D2066F" stroke="#4a4a4a" stroke-width="0.9"/>
<line x1="306.1" x2="322.2" y1="882.3" y2="882.3" stroke="#3c3c3c" stroke-width="1.7"/>
<line x1="368.13" x2="368.13" y1="1029.7" y2="1033.6" stroke="#222" stroke-width="1.2"/>
<text transform="translate(367.74,1041.74) rotate(-30)" text-anchor="end" dy="13.4" font-family='"Liberation Sans", Arial, Helvetica, sans-serif' font-size="18.7" letter-spacing="0" fill="#111">IGKV2-24</text>
<line x1="349.25" x2="349.25" y1="993" y2="1013.9" stroke="#4d4d4d" stroke-width="1.05"/>
<rect x="341.1" y="1001.2" width="16.3" height="6.5" fill="#1496D3" stroke="#4a4a4a" stroke-width="0.9"/>
<line x1="341.1" x2="357.4" y1="1004" y2="1004" stroke="#3c3c3c" stroke-width="1.7"/>
<line x1="368.35" x2="368.35" y1="940.9" y2="1002" stroke="#4d4d4d" stroke-width="1.05"/>
<rect x="360.3" y="969.3" width="16.1" height="20.1" fill="#281A60" stroke="#4a4a4a" stroke-width="0.9"/>
<line x1="360.3" x2="376.4" y1="979.9" y2="979.9" stroke="#3c3c3c" stroke-width="1.7"/>
<line x1="387.25" x2="387.25" y1="972.3" y2="1008.8" stroke="#4d4d4d" stroke-width="1.05"/>
<rect x="379.3" y="986.9" width="15.9" height="12.8" fill="#D2066F" stroke="#4a4a4a" stroke-width="0.9"/>
<line x1="379.3" x2="395.2" y1="994" y2="994" stroke="#3c3c3c" stroke-width="1.7"/>
<line x1="441.34" x2="441.34" y1="1029.7" y2="1033.6" stroke="#222" stroke-width="1.2"/>
<text transform="translate(441.13,1041.86) rotate(-30)" text-anchor="end" dy="13.4" font-family='"Liberation Sans", Arial, Helvetica, sans-serif' font-size="18.7" letter-spacing="0" fill="#111">IGHV4-39</text>
<line x1="422.45" x2="422.45" y1="969.8" y2="1013.9" stroke="#4d4d4d" stroke-width="1.05"/>
<rect x="414.3" y="987.3" width="16.3" height="14.3" fill="#1496D3" stroke="#4a4a4a" stroke-width="0.9"/>
<line x1="414.3" x2="430.6" y1="995.5" y2="995.5" stroke="#3c3c3c" stroke-width="1.7"/>
<line x1="441.5" x2="441.5" y1="908.2" y2="1013" stroke="#4d4d4d" stroke-width="1.05"/>
<rect x="433.4" y="947.2" width="16.2" height="30.8" fill="#281A60" stroke="#4a4a4a" stroke-width="0.9"/>
<line x1="433.4" x2="449.6" y1="967.4" y2="967.4" stroke="#3c3c3c" stroke-width="1.7"/>
<line x1="460.6" x2="460.6" y1="947.2" y2="1007.5" stroke="#4d4d4d" stroke-width="1.05"/>
<rect x="452.6" y="973.4" width="16" height="19.1" fill="#D2066F" stroke="#4a4a4a" stroke-width="0.9"/>
<line x1="452.6" x2="468.6" y1="982.4" y2="982.4" stroke="#3c3c3c" stroke-width="1.7"/>
<line x1="514.55" x2="514.55" y1="1029.7" y2="1033.6" stroke="#222" stroke-width="1.2"/>
<text transform="translate(514.51,1041.97) rotate(-30)" text-anchor="end" dy="13.4" font-family='"Liberation Sans", Arial, Helvetica, sans-serif' font-size="18.7" letter-spacing="0" fill="#111">IGHV3-48</text>
<line x1="495.75" x2="495.75" y1="976.1" y2="1013.7" stroke="#4d4d4d" stroke-width="1.05"/>
<rect x="487.7" y="995.5" width="16.1" height="13.9" fill="#1496D3" stroke="#4a4a4a" stroke-width="0.9"/>
<line x1="487.7" x2="503.8" y1="1006.3" y2="1006.3" stroke="#3c3c3c" stroke-width="1.7"/>
<line x1="514.75" x2="514.75" y1="896.8" y2="1010.3" stroke="#4d4d4d" stroke-width="1.05"/>
<rect x="506.7" y="950.6" width="16.1" height="46.2" fill="#281A60" stroke="#4a4a4a" stroke-width="0.9"/>
<line x1="506.7" x2="522.8" y1="980.7" y2="980.7" stroke="#3c3c3c" stroke-width="1.7"/>
<line x1="533.85" x2="533.85" y1="946.1" y2="1012.6" stroke="#4d4d4d" stroke-width="1.05"/>
<rect x="525.9" y="977.8" width="15.9" height="28.7" fill="#D2066F" stroke="#4a4a4a" stroke-width="0.9"/>
<line x1="525.9" x2="541.8" y1="996.8" y2="996.8" stroke="#3c3c3c" stroke-width="1.7"/>
<line x1="587.76" x2="587.76" y1="1029.7" y2="1033.6" stroke="#222" stroke-width="1.2"/>
<text transform="translate(590.49,1042.09) rotate(-30)" text-anchor="end" dy="13.4" font-family='"Liberation Sans", Arial, Helvetica, sans-serif' font-size="18.7" letter-spacing="0" fill="#111">IGHV1-69D</text>
<line x1="568.75" x2="568.75" y1="952.9" y2="1013.7" stroke="#4d4d4d" stroke-width="1.05"/>
<rect x="560.7" y="982" width="16.1" height="24" fill="#1496D3" stroke="#4a4a4a" stroke-width="0.9"/>
<line x1="560.7" x2="576.8" y1="995.7" y2="995.7" stroke="#3c3c3c" stroke-width="1.7"/>
<line x1="587.95" x2="587.95" y1="883.3" y2="1009.9" stroke="#4d4d4d" stroke-width="1.05"/>
<rect x="579.7" y="940.8" width="16.5" height="47.1" fill="#281A60" stroke="#4a4a4a" stroke-width="0.9"/>
<line x1="579.7" x2="596.2" y1="964.5" y2="964.5" stroke="#3c3c3c" stroke-width="1.7"/>
<line x1="607.05" x2="607.05" y1="924.2" y2="1012.6" stroke="#4d4d4d" stroke-width="1.05"/>
<rect x="598.9" y="963.8" width="16.3" height="28.8" fill="#D2066F" stroke="#4a4a4a" stroke-width="0.9"/>
<line x1="598.9" x2="615.2" y1="979.9" y2="979.9" stroke="#3c3c3c" stroke-width="1.7"/>
<line x1="660.97" x2="660.97" y1="1029.7" y2="1033.6" stroke="#222" stroke-width="1.2"/>
<text transform="translate(661.27,1042.2) rotate(-30)" text-anchor="end" dy="13.4" font-family='"Liberation Sans", Arial, Helvetica, sans-serif' font-size="18.7" letter-spacing="0" fill="#111">IGLV6-57</text>
<line x1="641.15" x2="641.15" y1="986.4" y2="1013.4" stroke="#4d4d4d" stroke-width="1.05"/>
<rect x="632.9" y="998.2" width="16.5" height="9.5" fill="#1496D3" stroke="#4a4a4a" stroke-width="0.9"/>
<line x1="632.9" x2="649.4" y1="1002.9" y2="1002.9" stroke="#3c3c3c" stroke-width="1.7"/>
<line x1="661.35" x2="661.35" y1="924.2" y2="1009.2" stroke="#4d4d4d" stroke-width="1.05"/>
<rect x="653.3" y="961.1" width="16.1" height="25.5" fill="#281A60" stroke="#4a4a4a" stroke-width="0.9"/>
<line x1="653.3" x2="669.4" y1="977.2" y2="977.2" stroke="#3c3c3c" stroke-width="1.7"/>
<line x1="681" x2="681" y1="972.5" y2="1010.5" stroke="#4d4d4d" stroke-width="1.05"/>
<rect x="672.7" y="988.7" width="16.6" height="12.5" fill="#D2066F" stroke="#4a4a4a" stroke-width="0.9"/>
<line x1="672.7" x2="689.3" y1="996.3" y2="996.3" stroke="#3c3c3c" stroke-width="1.7"/>
<line x1="734.18" x2="734.18" y1="1029.7" y2="1033.6" stroke="#222" stroke-width="1.2"/>
<text transform="translate(732.05,1042.31) rotate(-30)" text-anchor="end" dy="13.4" font-family='"Liberation Sans", Arial, Helvetica, sans-serif' font-size="18.7" letter-spacing="0" fill="#111">IGLV2-8</text>
<line x1="715.15" x2="715.15" y1="995.5" y2="1013.4" stroke="#4d4d4d" stroke-width="1.05"/>
<rect x="707.1" y="1003.3" width="16.1" height="6.3" fill="#1496D3" stroke="#4a4a4a" stroke-width="0.9"/>
<line x1="707.1" x2="723.2" y1="1006.1" y2="1006.1" stroke="#3c3c3c" stroke-width="1.7"/>
<line x1="734.55" x2="734.55" y1="945.1" y2="1008.6" stroke="#4d4d4d" stroke-width="1.05"/>
<rect x="726.5" y="971.2" width="16.1" height="21.1" fill="#281A60" stroke="#4a4a4a" stroke-width="0.9"/>
<line x1="726.5" x2="742.6" y1="982.6" y2="982.6" stroke="#3c3c3c" stroke-width="1.7"/>
<line x1="753.55" x2="753.55" y1="983.3" y2="1011.3" stroke="#4d4d4d" stroke-width="1.05"/>
<rect x="745.5" y="995.3" width="16.1" height="9.5" fill="#D2066F" stroke="#4a4a4a" stroke-width="0.9"/>
<line x1="745.5" x2="761.6" y1="999.3" y2="999.3" stroke="#3c3c3c" stroke-width="1.7"/>
<line x1="807.39" x2="807.39" y1="1029.7" y2="1033.6" stroke="#222" stroke-width="1.2"/>
<text transform="translate(808.03,1042.43) rotate(-30)" text-anchor="end" dy="13.4" font-family='"Liberation Sans", Arial, Helvetica, sans-serif' font-size="18.7" letter-spacing="0" fill="#111">IGKV4-1</text>
<line x1="788.5" x2="788.5" y1="908" y2="1008.4" stroke="#4d4d4d" stroke-width="1.05"/>
<rect x="780.4" y="947.8" width="16.2" height="29.6" fill="#1496D3" stroke="#4a4a4a" stroke-width="0.9"/>
<line x1="780.4" x2="796.6" y1="963.8" y2="963.8" stroke="#3c3c3c" stroke-width="1.7"/>
<line x1="807.5" x2="807.5" y1="714.1" y2="940.8" stroke="#4d4d4d" stroke-width="1.05"/>
<rect x="799.4" y="803.3" width="16.2" height="73.5" fill="#281A60" stroke="#4a4a4a" stroke-width="0.9"/>
<line x1="799.4" x2="815.6" y1="848.7" y2="848.7" stroke="#3c3c3c" stroke-width="1.7"/>
<line x1="826.75" x2="826.75" y1="865.4" y2="971.2" stroke="#4d4d4d" stroke-width="1.05"/>
<rect x="818.7" y="905.4" width="16.1" height="32.7" fill="#D2066F" stroke="#4a4a4a" stroke-width="0.9"/>
<line x1="818.7" x2="834.8" y1="924.2" y2="924.2" stroke="#3c3c3c" stroke-width="1.7"/>
<line x1="880.6" x2="880.6" y1="1029.7" y2="1033.6" stroke="#222" stroke-width="1.2"/>
<text transform="translate(881.41,1042.54) rotate(-30)" text-anchor="end" dy="13.4" font-family='"Liberation Sans", Arial, Helvetica, sans-serif' font-size="18.7" letter-spacing="0" fill="#111">IGHM</text>
<line x1="861.7" x2="861.7" y1="707.1" y2="1006.9" stroke="#4d4d4d" stroke-width="1.05"/>
<rect x="853.7" y="771.2" width="16" height="117.5" fill="#1496D3" stroke="#4a4a4a" stroke-width="0.9"/>
<line x1="853.7" x2="869.7" y1="829.7" y2="829.7" stroke="#3c3c3c" stroke-width="1.7"/>
<line x1="880.65" x2="880.65" y1="721" y2="806.7" stroke="#4d4d4d" stroke-width="1.05"/>
<rect x="872.6" y="743.8" width="16.1" height="43.2" fill="#281A60" stroke="#4a4a4a" stroke-width="0.9"/>
<line x1="872.6" x2="888.7" y1="767" y2="767" stroke="#3c3c3c" stroke-width="1.7"/>
<line x1="899.95" x2="899.95" y1="708.1" y2="802.5" stroke="#4d4d4d" stroke-width="1.05"/>
<rect x="891.8" y="735.1" width="16.3" height="59.6" fill="#D2066F" stroke="#4a4a4a" stroke-width="0.9"/>
<line x1="891.8" x2="908.1" y1="773.1" y2="773.1" stroke="#3c3c3c" stroke-width="1.7"/>
<line x1="953.81" x2="953.81" y1="1029.7" y2="1033.6" stroke="#222" stroke-width="1.2"/>
<text transform="translate(954.8,1042.66) rotate(-30)" text-anchor="end" dy="13.4" font-family='"Liberation Sans", Arial, Helvetica, sans-serif' font-size="18.7" letter-spacing="0" fill="#111">IGHG2</text>
<line x1="935.05" x2="935.05" y1="1001.2" y2="1013.6" stroke="#4d4d4d" stroke-width="1.05"/>
<rect x="926.9" y="1007.1" width="16.3" height="4.4" fill="#1496D3" stroke="#4a4a4a" stroke-width="0.9"/>
<line x1="926.9" x2="943.2" y1="1009.2" y2="1009.2" stroke="#3c3c3c" stroke-width="1.7"/>
<line x1="954.15" x2="954.15" y1="959" y2="1007.3" stroke="#4d4d4d" stroke-width="1.05"/>
<rect x="946.1" y="981.4" width="16.1" height="18.5" fill="#281A60" stroke="#4a4a4a" stroke-width="0.9"/>
<line x1="946.1" x2="962.2" y1="992.8" y2="992.8" stroke="#3c3c3c" stroke-width="1.7"/>
<line x1="973.05" x2="973.05" y1="987.9" y2="1013.2" stroke="#4d4d4d" stroke-width="1.05"/>
<rect x="964.9" y="999.3" width="16.3" height="8.9" fill="#D2066F" stroke="#4a4a4a" stroke-width="0.9"/>
<line x1="964.9" x2="981.2" y1="1004.4" y2="1004.4" stroke="#3c3c3c" stroke-width="1.7"/>
<line x1="1027.02" x2="1027.02" y1="1029.7" y2="1033.6" stroke="#222" stroke-width="1.2"/>
<text transform="translate(1028.18,1042.77) rotate(-30)" text-anchor="end" dy="13.4" font-family='"Liberation Sans", Arial, Helvetica, sans-serif' font-size="18.7" letter-spacing="0" fill="#111">IGLV1-40</text>
<line x1="1007.45" x2="1007.45" y1="966.2" y2="1010.5" stroke="#4d4d4d" stroke-width="1.05"/>
<rect x="999.5" y="985.4" width="15.9" height="14.3" fill="#1496D3" stroke="#4a4a4a" stroke-width="0.9"/>
<line x1="999.5" x2="1015.4" y1="992.5" y2="992.5" stroke="#3c3c3c" stroke-width="1.7"/>
<line x1="1027.25" x2="1027.25" y1="862.2" y2="995.5" stroke="#4d4d4d" stroke-width="1.05"/>
<rect x="1019.1" y="922.3" width="16.3" height="41.6" fill="#281A60" stroke="#4a4a4a" stroke-width="0.9"/>
<line x1="1019.1" x2="1035.4" y1="945.3" y2="945.3" stroke="#3c3c3c" stroke-width="1.7"/>
<line x1="1046.35" x2="1046.35" y1="933.9" y2="1000.8" stroke="#4d4d4d" stroke-width="1.05"/>
<rect x="1038.3" y="964.5" width="16.1" height="23" fill="#D2066F" stroke="#4a4a4a" stroke-width="0.9"/>
<line x1="1038.3" x2="1054.4" y1="976.9" y2="976.9" stroke="#3c3c3c" stroke-width="1.7"/>
<line x1="1100.23" x2="1100.23" y1="1029.7" y2="1033.6" stroke="#222" stroke-width="1.2"/>
<text transform="translate(1101.56,1042.89) rotate(-30)" text-anchor="end" dy="13.4" font-family='"Liberation Sans", Arial, Helvetica, sans-serif' font-size="18.7" letter-spacing="0" fill="#111">IGHV2-5</text>
<line x1="1081.5" x2="1081.5" y1="994" y2="1013.4" stroke="#4d4d4d" stroke-width="1.05"/>
<rect x="1073.4" y="1003.3" width="16.2" height="6.8" fill="#1496D3" stroke="#4a4a4a" stroke-width="0.9"/>
<line x1="1073.4" x2="1089.6" y1="1006.5" y2="1006.5" stroke="#3c3c3c" stroke-width="1.7"/>
<line x1="1100.5" x2="1100.5" y1="956.1" y2="1009.2" stroke="#4d4d4d" stroke-width="1.05"/>
<rect x="1092.4" y="980.7" width="16.2" height="16.9" fill="#281A60" stroke="#4a4a4a" stroke-width="0.9"/>
<line x1="1092.4" x2="1108.6" y1="991.7" y2="991.7" stroke="#3c3c3c" stroke-width="1.7"/>
<line x1="1119.65" x2="1119.65" y1="983.1" y2="1010.9" stroke="#4d4d4d" stroke-width="1.05"/>
<rect x="1111.7" y="995.3" width="15.9" height="9.7" fill="#D2066F" stroke="#4a4a4a" stroke-width="0.9"/>
<line x1="1111.7" x2="1127.6" y1="1000.8" y2="1000.8" stroke="#3c3c3c" stroke-width="1.7"/>
<line x1="1173.44" x2="1173.44" y1="1029.7" y2="1033.6" stroke="#222" stroke-width="1.2"/>
<text transform="translate(1174.94,1043) rotate(-30)" text-anchor="end" dy="13.4" font-family='"Liberation Sans", Arial, Helvetica, sans-serif' font-size="18.7" letter-spacing="0" fill="#111">IGKV1-27</text>
<line x1="1154.6" x2="1154.6" y1="986.2" y2="1012.8" stroke="#4d4d4d" stroke-width="1.05"/>
<rect x="1146.4" y="997.4" width="16.4" height="8.9" fill="#1496D3" stroke="#4a4a4a" stroke-width="0.9"/>
<line x1="1146.4" x2="1162.8" y1="1002.2" y2="1002.2" stroke="#3c3c3c" stroke-width="1.7"/>
<line x1="1173.75" x2="1173.75" y1="937.3" y2="1004.6" stroke="#4d4d4d" stroke-width="1.05"/>
<rect x="1165.7" y="962.2" width="16.1" height="22.5" fill="#281A60" stroke="#4a4a4a" stroke-width="0.9"/>
<line x1="1165.7" x2="1181.8" y1="974" y2="974" stroke="#3c3c3c" stroke-width="1.7"/>
<line x1="1192.95" x2="1192.95" y1="967.2" y2="1006" stroke="#4d4d4d" stroke-width="1.05"/>
<rect x="1184.9" y="984.5" width="16.1" height="14.6" fill="#D2066F" stroke="#4a4a4a" stroke-width="0.9"/>
<line x1="1184.9" x2="1201" y1="992.5" y2="992.5" stroke="#3c3c3c" stroke-width="1.7"/>
<text x="463" y="744.3" font-family='"Liberation Serif", "Times New Roman", serif' font-weight="700" font-size="26.5" fill="#000">Subgroups</text>
<line x1="595.2" x2="595.2" y1="728.6" y2="746.8" stroke="#3a3a3a" stroke-width="1.7"/>
<rect x="590.9000000000001" y="732.6" width="8.6" height="10.4" rx="1" fill="#1496D3" stroke="#3a3a3a" stroke-width="1.7"/>
<line x1="590.9000000000001" x2="599.5" y1="737.8" y2="737.8" stroke="#3a3a3a" stroke-width="1.8"/>
<text x="607" y="746.5" font-family='"Liberation Serif", "Times New Roman", serif' font-weight="700" font-size="26" fill="#000">I</text>
<line x1="639.5" x2="639.5" y1="728.6" y2="746.8" stroke="#3a3a3a" stroke-width="1.7"/>
<rect x="635.2" y="732.6" width="8.6" height="10.4" rx="1" fill="#281A60" stroke="#3a3a3a" stroke-width="1.7"/>
<line x1="635.2" x2="643.8" y1="737.8" y2="737.8" stroke="#3a3a3a" stroke-width="1.8"/>
<text x="651" y="746.5" font-family='"Liberation Serif", "Times New Roman", serif' font-weight="700" font-size="26" fill="#000">II</text>
<line x1="691" x2="691" y1="728.6" y2="746.8" stroke="#3a3a3a" stroke-width="1.7"/>
<rect x="686.7" y="732.6" width="8.6" height="10.4" rx="1" fill="#D2066F" stroke="#3a3a3a" stroke-width="1.7"/>
<line x1="686.7" x2="695.3" y1="737.8" y2="737.8" stroke="#3a3a3a" stroke-width="1.8"/>
<text x="702" y="746.5" font-family='"Liberation Serif", "Times New Roman", serif' font-weight="700" font-size="26" fill="#000">V</text>
</g>
</svg>
</body>
</html>
